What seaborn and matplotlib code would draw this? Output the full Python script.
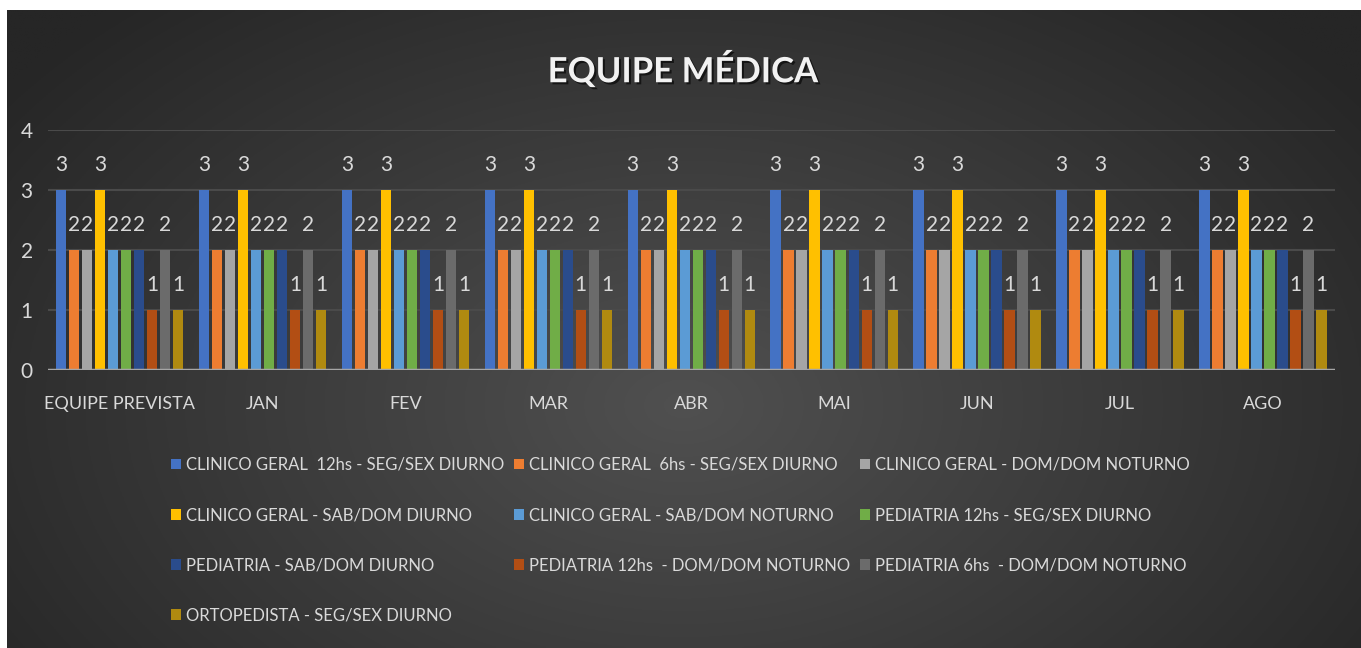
import numpy as np
import pandas as pd
import matplotlib
matplotlib.use("Agg")
import matplotlib.pyplot as plt
import matplotlib.patheffects as pe
from matplotlib.patches import Patch
import seaborn as sns

# dados
categorias = ['EQUIPE PREVISTA', 'JAN', 'FEV', 'MAR', 'ABR', 'MAI', 'JUN', 'JUL', 'AGO']
funcoes = [
    'CLINICO GERAL  12hs - SEG/SEX DIURNO',
    'CLINICO GERAL  6hs - SEG/SEX DIURNO',
    'CLINICO GERAL - DOM/DOM NOTURNO',
    'CLINICO GERAL - SAB/DOM DIURNO',
    'CLINICO GERAL - SAB/DOM NOTURNO',
    'PEDIATRIA 12hs - SEG/SEX DIURNO',
    'PEDIATRIA - SAB/DOM DIURNO',
    'PEDIATRIA 12hs  - DOM/DOM NOTURNO',
    'PEDIATRIA 6hs  - DOM/DOM NOTURNO',
    'ORTOPEDISTA - SEG/SEX DIURNO',
]
cg_12h_seg_sex = [3, 3, 3, 3, 3, 3, 3, 3, 3]
cg_6h_seg_sex = [2, 2, 2, 2, 2, 2, 2, 2, 2]
cg_dom_noturno = [2, 2, 2, 2, 2, 2, 2, 2, 2]
cg_sab_dom_diurno = [3, 3, 3, 3, 3, 3, 3, 3, 3]
cg_sab_dom_noturno = [2, 2, 2, 2, 2, 2, 2, 2, 2]
ped_12h_seg_sex = [2, 2, 2, 2, 2, 2, 2, 2, 2]
ped_sab_dom_diurno = [2, 2, 2, 2, 2, 2, 2, 2, 2]
ped_12h_dom_noturno = [1, 1, 1, 1, 1, 1, 1, 1, 1]
ped_6h_dom_noturno = [2, 2, 2, 2, 2, 2, 2, 2, 2]
orto_seg_sex = [1, 1, 1, 1, 1, 1, 1, 1, 1]

series = [cg_12h_seg_sex, cg_6h_seg_sex, cg_dom_noturno, cg_sab_dom_diurno,
          cg_sab_dom_noturno, ped_12h_seg_sex, ped_sab_dom_diurno,
          ped_12h_dom_noturno, ped_6h_dom_noturno, orto_seg_sex]

cores = ['#4472C4', '#ED7D31', '#A5A5A5', '#FFC000', '#5B9BD5',
         '#70AD47', '#2A4C8C', '#B24E14', '#6B6B6B', '#B08A10']

rows = []
for nome, vals in zip(funcoes, series):
    for cat, v in zip(categorias, vals):
        rows.append({'periodo': cat, 'funcao': nome, 'valor': v})
df = pd.DataFrame(rows)

plt.rcParams['font.family'] = ['Lato', 'DejaVu Sans']
txt = '#d9d9d9'

fig = plt.figure(figsize=(13.61, 6.48), dpi=100)
fig.patch.set_facecolor('white')

# fundo com gradiente radial
bg = fig.add_axes([7 / 1361, 0, 1 - 7 / 1361, 638 / 648])
yy, xx = np.mgrid[0:1:300j, 0:1:600j]
r = np.sqrt(((xx - 0.5) / 0.62) ** 2 + ((yy - 0.62) / 0.85) ** 2)
r = np.clip(r, 0, 1)
c0, c1 = 0x50, 0x26
g = (c0 + (c1 - c0) * r) / 255
bg.imshow(np.dstack([g, g, g]), aspect='auto', extent=[0, 1, 1, 0])
bg.axis('off')

ax = fig.add_axes([48 / 1361, (648 - 370) / 648, (1334.5 - 48) / 1361, 240 / 648])
ax.set_facecolor('none')
sns.barplot(data=df, x='periodo', y='valor', hue='funcao', order=categorias,
            hue_order=funcoes, palette=cores, width=0.91, gap=0.2,
            legend=False, ax=ax, saturation=1)

for c in ax.containers:
    ax.bar_label(c, padding=11, color=txt, fontsize=15)

ax.set_ylim(0, 4)
ax.set_yticks([0, 1, 2, 3, 4])
ax.yaxis.grid(True, color='#4a4a4a', lw=1.5)
ax.set_axisbelow(True)
ax.axhline(0, color='#a6a6a6', lw=2.5, zorder=3)
for s in ax.spines.values():
    s.set_visible(False)
ax.tick_params(axis='both', length=0, labelcolor=txt)
ax.tick_params(axis='y', pad=11, labelsize=15)
ax.tick_params(axis='x', pad=19, labelsize=13)
ax.set_xlabel('')
ax.set_ylabel('')

fig.text(683 / 1361, 1 - 70 / 648, 'EQUIPE MÉDICA', ha='center', va='center',
         fontsize=25, fontweight='bold', color='#f2f2f2',
         path_effects=[pe.withSimplePatchShadow(offset=(1.5, -1.5), shadow_rgbFace='black', alpha=0.6)])

handles = [Patch(facecolor=c) for c in cores]
ordem = [0, 3, 6, 9, 1, 4, 7, 2, 5, 8]
fig.legend([handles[i] for i in ordem], [funcoes[i] for i in ordem], ncol=3,
           loc='upper left', bbox_to_anchor=(171 / 1361, 1 - 457 / 648),
           frameon=False, fontsize=12, labelcolor=txt, handlelength=0.6,
           handleheight=0.6, handletextpad=0.3, columnspacing=0.6,
           labelspacing=2.05, borderpad=0, borderaxespad=0)

fig.savefig('out.png', dpi=100, facecolor='white')
